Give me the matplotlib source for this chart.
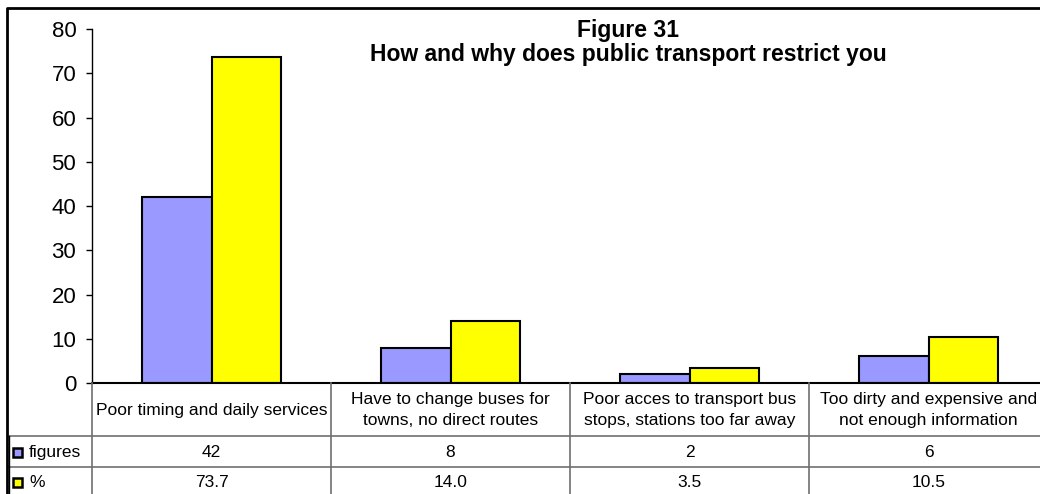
import matplotlib.pyplot as plt
import matplotlib.transforms as mtransforms
from matplotlib.lines import Line2D
from matplotlib.patches import Rectangle
import numpy as np

categories = [
    "Poor timing and daily services",
    "Have to change buses for\ntowns, no direct routes",
    "Poor acces to transport bus\nstops, stations too far away",
    "Too dirty and expensive and\nnot enough information",
]
figures = [42, 8, 2, 6]
percent = [73.7, 14.0, 3.5, 10.5]
series_names = ["figures", "%"]
series_colors = ["#9999FF", "#FFFF00"]
yticks = [0, 10, 20, 30, 40, 50, 60, 70, 80]

W, H = 1040, 494
plt.rcParams["font.family"] = ["Liberation Sans", "DejaVu Sans"]

fig = plt.figure(figsize=(W / 100, H / 100), dpi=100)


def fx(px):
    return px / W


def fy(py):
    return 1 - py / H


# plot area (runs past the right edge, like the clipped original)
ax_left, ax_right, ax_top, ax_bottom = 92, 1048, 29, 383
ax = fig.add_axes([fx(ax_left), fy(ax_bottom), fx(ax_right - ax_left), (ax_bottom - ax_top) / H])

n = len(categories)
x = np.arange(n) + 0.5
w = 0.289
ax.bar(x - w / 2, figures, w, color=series_colors[0], edgecolor="black", linewidth=1.5)
ax.bar(x + w / 2, percent, w, color=series_colors[1], edgecolor="black", linewidth=1.5)

ax.set_xlim(0, n)
ax.set_ylim(0, 80)
ax.set_yticks(yticks)
ax.set_xticks([])
ax.tick_params(axis="y", direction="out", length=4.3, width=1, labelsize=16, pad=7)
for s in ["top", "right"]:
    ax.spines[s].set_visible(False)
ax.spines["left"].set_linewidth(1)
ax.spines["bottom"].set_linewidth(1.5)

# title
fig.text(fx(628), fy(31), "Figure 31", ha="center", va="center", fontsize=16.5, fontweight="bold")
fig.text(fx(628), fy(55), "How and why does public transport restrict you", ha="center", va="center",
         fontsize=16.5, fontweight="bold")

# data table under the axis
bt = mtransforms.blended_transform_factory(ax.transData, fig.transFigure)
grid_color = "#707070"
row_lines = [436, 467]
for ry in row_lines:
    fig.add_artist(Line2D([fx(9), 1], [fy(ry), fy(ry)], color=grid_color, lw=1.2))
for i in range(n):
    fig.add_artist(Line2D([i, i], [fy(ax_bottom), 0], transform=bt, color=grid_color, lw=1.2))
fig.add_artist(Line2D([fx(9), fx(9)], [fy(436), 0], color="black", lw=1))

for i in range(n):
    ax.text(x[i], fy(410), categories[i], transform=bt, ha="center", va="center",
            fontsize=12.5, linespacing=1.5)
    ax.text(x[i], fy(452), f"{figures[i]}", transform=bt, ha="center", va="center", fontsize=12.5)
    ax.text(x[i], fy(482), f"{percent[i]:.1f}", transform=bt, ha="center", va="center", fontsize=12.5)

for name, color, cy in zip(series_names, series_colors, [452, 482]):
    fig.add_artist(Rectangle((fx(13), fy(cy + 5)), fx(9), 9 / H, facecolor=color,
                             edgecolor="black", lw=1.8))
    fig.text(fx(29), fy(cy), name, ha="left", va="center", fontsize=12.5)

# outer chart border
fig.add_artist(Line2D([fx(7), fx(7), 1], [0, fy(8), fy(8)], color="black", lw=2))

fig.savefig("out.png", dpi=100)
